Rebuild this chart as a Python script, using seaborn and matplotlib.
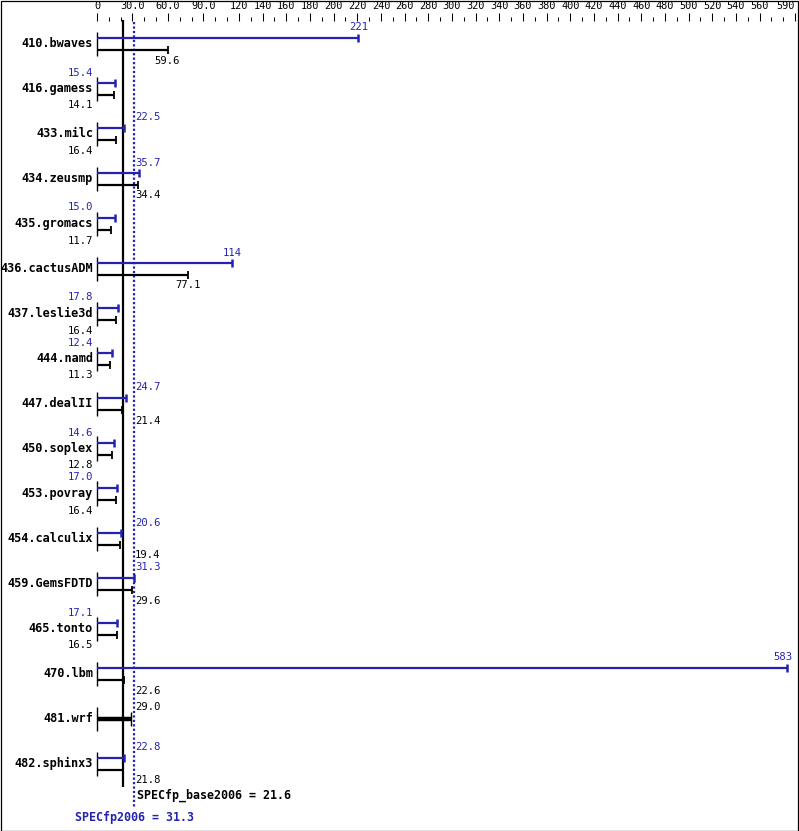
import numpy as np
import pandas as pd
import matplotlib
matplotlib.use("Agg")
import matplotlib.pyplot as plt
import seaborn as sns
from matplotlib.patches import Rectangle

# ---------------- data ----------------
benchmarks = ["410.bwaves", "416.gamess", "433.milc", "434.zeusmp", "435.gromacs",
              "436.cactusADM", "437.leslie3d", "444.namd", "447.dealII", "450.soplex",
              "453.povray", "454.calculix", "459.GemsFDTD", "465.tonto", "470.lbm",
              "481.wrf", "482.sphinx3"]
peak_scores = [221, 15.4, 22.5, 35.7, 15.0, 114, 17.8, 12.4, 24.7, 14.6,
               17.0, 20.6, 31.3, 17.1, 583, np.nan, 22.8]
base_scores = [59.6, 14.1, 16.4, 34.4, 11.7, 77.1, 16.4, 11.3, 21.4, 12.8,
               16.4, 19.4, 29.6, 16.5, 22.6, 29.0, 21.8]
peak_label = ["221", "15.4", "22.5", "35.7", "15.0", "114", "17.8", "12.4", "24.7", "14.6",
              "17.0", "20.6", "31.3", "17.1", "583", "", "22.8"]
base_label = ["59.6", "14.1", "16.4", "34.4", "11.7", "77.1", "16.4", "11.3", "21.4", "12.8",
              "16.4", "19.4", "29.6", "16.5", "22.6", "29.0", "21.8"]
base_geomean = 21.6
peak_geomean = 31.3
base_text = "SPECfp_base2006 = 21.6"
peak_text = "SPECfp2006 = 31.3"
major_ticks = [0, 30, 60, 90, 120, 140, 160, 180, 200, 220, 240, 260, 280, 300, 320, 340,
               360, 380, 400, 420, 440, 460, 480, 500, 520, 540, 560, 590]
major_tick_labels = ["0", "30.0", "60.0", "90.0", "120", "140", "160", "180", "200", "220",
                     "240", "260", "280", "300", "320", "340", "360", "380", "400", "420",
                     "440", "460", "480", "500", "520", "540", "560", "590"]

df = pd.DataFrame({"bench": benchmarks, "peak": peak_scores, "base": base_scores,
                   "peak_label": peak_label, "base_label": base_label})
df["row"] = np.arange(len(df))

# ---------------- style ----------------
sns.set_theme(style="white")
plt.rcParams["font.family"] = ["DejaVu Sans Mono", "DejaVu Sans"]

BLUE = "#2323b0"
BLACK = "#000000"

W, H = 799, 831
fig = plt.figure(figsize=(W / 100, H / 100), dpi=100)
X0_PX, X1_PX = 97, 795
TOP_PX = 21
ROW_PX = 45
ax = fig.add_axes([X0_PX / W, 0, (X1_PX - X0_PX) / W, (H - TOP_PX) / H])
XMAX = 590
SCALE = (X1_PX - X0_PX) / XMAX  # px per unit
ax.set_xlim(0, XMAX)
ylim_bottom = (H - TOP_PX) / ROW_PX - 0.5
ax.set_ylim(ylim_bottom, -0.5)


def px2x(px):
    return (px - X0_PX) / SCALE


def px2row(py):
    return (py - TOP_PX) / ROW_PX - 0.5


d = 6 / ROW_PX

# left bracket segments at zero
ax.vlines(np.zeros(len(df)), df["row"] - 12 / ROW_PX, df["row"] + 12 / ROW_PX,
          color=BLACK, lw=1, clip_on=False)

# geomean lines
ax.vlines(base_geomean, px2row(20), px2row(787), color=BLACK, lw=1.6, clip_on=False, zorder=3)
ax.vlines(peak_geomean, px2row(22), px2row(808), color=BLUE, lw=1.6,
          linestyles=(0, (1, 1)), clip_on=False, zorder=3)

has_peak = df["peak"].notna()
pk = df[has_peak]
bs_pair = df[has_peak]
bs_single = df[~has_peak]

# peak bars
ax.hlines(pk["row"] - d, 0, pk["peak"], color=BLUE, lw=1.6, clip_on=False, zorder=4)
ax.plot(pk["peak"], pk["row"] - d, ls="none", marker="|", ms=6, mew=1.8, color=BLUE,
        clip_on=False, zorder=4)
# base bars
ax.hlines(bs_pair["row"] + d, 0, bs_pair["base"], color=BLACK, lw=1.6, clip_on=False, zorder=4)
ax.plot(bs_pair["base"], bs_pair["row"] + d, ls="none", marker="|", ms=6, mew=1.3,
        color=BLACK, clip_on=False, zorder=4)
# single (base only) bars, thick
ax.hlines(bs_single["row"], 0, bs_single["base"], color=BLACK, lw=3.2, clip_on=False, zorder=4)
ax.plot(bs_single["base"], bs_single["row"], ls="none", marker="|", ms=10, mew=1.0,
        color=BLACK, clip_on=False, zorder=4)

VAL_FS = 7.6


def place(v):
    if v < 19:
        return px2x(93), "right"
    if v < 40:
        return px2x(135), "left"
    end_px = X0_PX + v * SCALE
    if end_px + 10 > 792:
        return px2x(792), "right"
    return v, "center"


for _, r in df.iterrows():
    ax.text(px2x(93), r["row"], r["bench"], ha="right", va="center", fontsize=8.6,
            fontweight="bold", color=BLACK, clip_on=False)
    if pd.notna(r["peak"]):
        x, ha = place(r["peak"])
        ax.text(x, r["row"] - 16 / ROW_PX, r["peak_label"], ha=ha, va="center",
                fontsize=VAL_FS, color=BLUE, clip_on=False)
        x, ha = place(r["base"])
        ax.text(x, r["row"] + 17 / ROW_PX, r["base_label"], ha=ha, va="center",
                fontsize=VAL_FS, color=BLACK, clip_on=False)
    else:
        x, ha = place(r["base"])
        ax.text(x, r["row"] - 12 / ROW_PX, r["base_label"], ha=ha, va="center",
                fontsize=VAL_FS, color=BLACK, clip_on=False)

ax.text(px2x(137), px2row(795), base_text, ha="left", va="center", fontsize=8.4,
        fontweight="bold", color=BLACK, clip_on=False)
ax.text(peak_geomean, px2row(817), peak_text, ha="center", va="center", fontsize=8.4,
        fontweight="bold", color=BLUE, clip_on=False)

# top axis
ax.xaxis.tick_top()
ax.set_xticks(major_ticks)
ax.set_xticklabels(major_tick_labels, fontsize=7.4)
minor = [m for m in range(10, XMAX, 10) if m not in major_ticks]
ax.set_xticks(minor, minor=True)
ax.tick_params(axis="x", which="major", top=True, bottom=False, direction="out",
               length=5.8, width=0.75, pad=1.2, colors=BLACK)
ax.tick_params(axis="x", which="minor", top=True, bottom=False, direction="out",
               length=2.9, width=0.75, colors=BLACK)
ax.set_yticks([])
ax.get_xticklabels()[-1].set_horizontalalignment("right")
for s in ax.spines.values():
    s.set_visible(False)
ax.patch.set_alpha(0)

fig.add_artist(Rectangle((0.5 / W, 0.5 / H), 1 - 1.5 / W, 1 - 1.5 / H, transform=fig.transFigure,
                         fill=False, lw=0.9, ec=BLACK))

fig.savefig("out.png", dpi=100)
